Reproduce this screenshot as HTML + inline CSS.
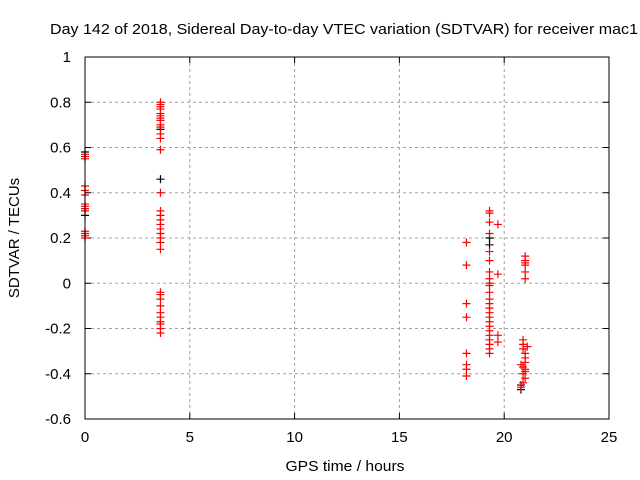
<!DOCTYPE html>
<html><head><meta charset="utf-8"><style>
body{margin:0;background:#fff}
svg{display:block;font-family:"Liberation Sans",sans-serif;font-size:15px}
</style></head><body>
<svg id="chart" width="640" height="480">
<text x="344" y="34" text-anchor="middle" textLength="588" lengthAdjust="spacingAndGlyphs">Day 142 of 2018, Sidereal Day-to-day VTEC variation (SDTVAR) for receiver mac1</text>
<text x="345" y="471" text-anchor="middle" textLength="119" lengthAdjust="spacingAndGlyphs">GPS time / hours</text>
<text transform="translate(19,238) rotate(-90)" text-anchor="middle">SDTVAR / TECUs</text>
<g id="grid"></g><g id="ticks"></g><g id="marks"></g>
<rect x="85" y="57" width="524" height="362" fill="none" stroke="#000" stroke-width="1"/>
</svg>
<script>
const xTicks=[0,5,10,15,20,25];
const yTicks=[1,0.8,0.6,0.4,0.2,0,-0.2,-0.4,-0.6];
const yTickLabels=["1","0.8","0.6","0.4","0.2","0","-0.2","-0.4","-0.6"];
const redHours=[0,0,0,0,0,0,0,0,0,0,0,0,0,0,
3.6,3.6,3.6,3.6,3.6,3.6,3.6,3.6,3.6,3.6,3.6,3.6,3.6,3.6,3.6,3.6,3.6,3.6,3.6,3.6,3.6,3.6,3.6,3.6,3.6,3.6,3.6,3.6,3.6,3.6,3.6,3.6,3.6,
18.2,18.2,18.2,18.2,18.2,18.2,18.2,18.2,
19.3,19.3,19.3,19.3,19.3,19.3,19.3,19.3,19.3,19.3,19.3,19.3,19.3,19.3,19.3,19.3,19.3,19.3,19.3,19.3,19.3,19.3,19.3,19.3,
19.7,19.7,19.7,19.7,
21.0,21.0,21.0,21.0,21.0,21.0,
20.9,20.9,20.9,21.0,21.0,21.0,20.8,20.9,21.0,20.9,21.0,20.9,20.8,21.1,21.0];
const redValues=[0.57,0.56,0.55,0.43,0.41,0.39,0.35,0.34,0.33,0.32,0.23,0.22,0.21,0.20,
0.80,0.79,0.78,0.77,0.75,0.74,0.73,0.72,0.70,0.69,0.66,0.64,0.59,0.40,0.32,0.30,0.28,0.26,0.24,0.22,0.20,0.18,0.15,-0.04,-0.05,-0.07,-0.10,-0.13,-0.15,-0.17,-0.18,-0.20,-0.22,
0.18,0.08,-0.09,-0.15,-0.31,-0.36,-0.38,-0.41,
0.32,0.31,0.27,0.22,0.14,0.10,0.05,0.02,-0.01,-0.04,-0.07,-0.09,-0.11,-0.13,-0.15,-0.17,-0.19,-0.21,-0.23,-0.25,-0.27,-0.29,-0.31,0.0,
0.26,0.04,-0.23,-0.26,
0.12,0.10,0.09,0.08,0.05,0.02,
-0.25,-0.27,-0.29,-0.31,-0.33,-0.35,-0.36,-0.37,-0.38,-0.40,-0.42,-0.44,-0.46,-0.28,-0.39];
const blackHours=[0,0,3.6,3.6,19.3,19.3,20.8,20.8];
const blackValues=[0.58,0.30,0.46,0.68,0.20,0.17,-0.45,-0.47];
const X=h=>85+h*524/25, Y=v=>57+(1-v)*362/1.6;
const NS="http://www.w3.org/2000/svg";
const grid=document.getElementById('grid'),ticks=document.getElementById('ticks'),marks=document.getElementById('marks');
function mk(tag,attrs,parent){const e=document.createElementNS(NS,tag);for(const k in attrs)e.setAttribute(k,attrs[k]);parent.appendChild(e);return e;}
xTicks.forEach((t,i)=>{const x=X(t);
 if(i>0&&i<xTicks.length-1){const g=mk('line',{x1:x,x2:x,y1:57,y2:419,stroke:'#a0a0a0','stroke-dasharray':'3,3'},grid);}
 mk('line',{x1:x,x2:x,y1:419,y2:413,stroke:'#000'},ticks);mk('line',{x1:x,x2:x,y1:57,y2:63,stroke:'#000'},ticks);
 const tx=mk('text',{x:x,y:442,'text-anchor':'middle'},ticks);tx.textContent=t;
 });
yTicks.forEach((t,i)=>{const y=Y(t);
 if(i>0&&i<yTicks.length-1){const g=mk('line',{x1:85,x2:609,y1:y,y2:y,stroke:'#a0a0a0','stroke-dasharray':'3,3'},grid);}
 mk('line',{x1:85,x2:91,y1:y,y2:y,stroke:'#000'},ticks);mk('line',{x1:609,x2:603,y1:y,y2:y,stroke:'#000'},ticks);
 const tx=mk('text',{x:71,y:y+5,'text-anchor':'end'},ticks);tx.textContent=yTickLabels[i];
 });
function plus(h,v,color){const x=X(h),y=Y(v);
 const p=mk('path',{d:`M${x-4},${y}H${x+4}M${x},${y-4}V${y+4}`,stroke:color,'stroke-width':1.2,fill:'none'},marks);
 
 }
blackHours.forEach((h,i)=>plus(h,blackValues[i],'#000'));
redHours.forEach((h,i)=>plus(h,redValues[i],'#f00'));
</script>
</body></html>
